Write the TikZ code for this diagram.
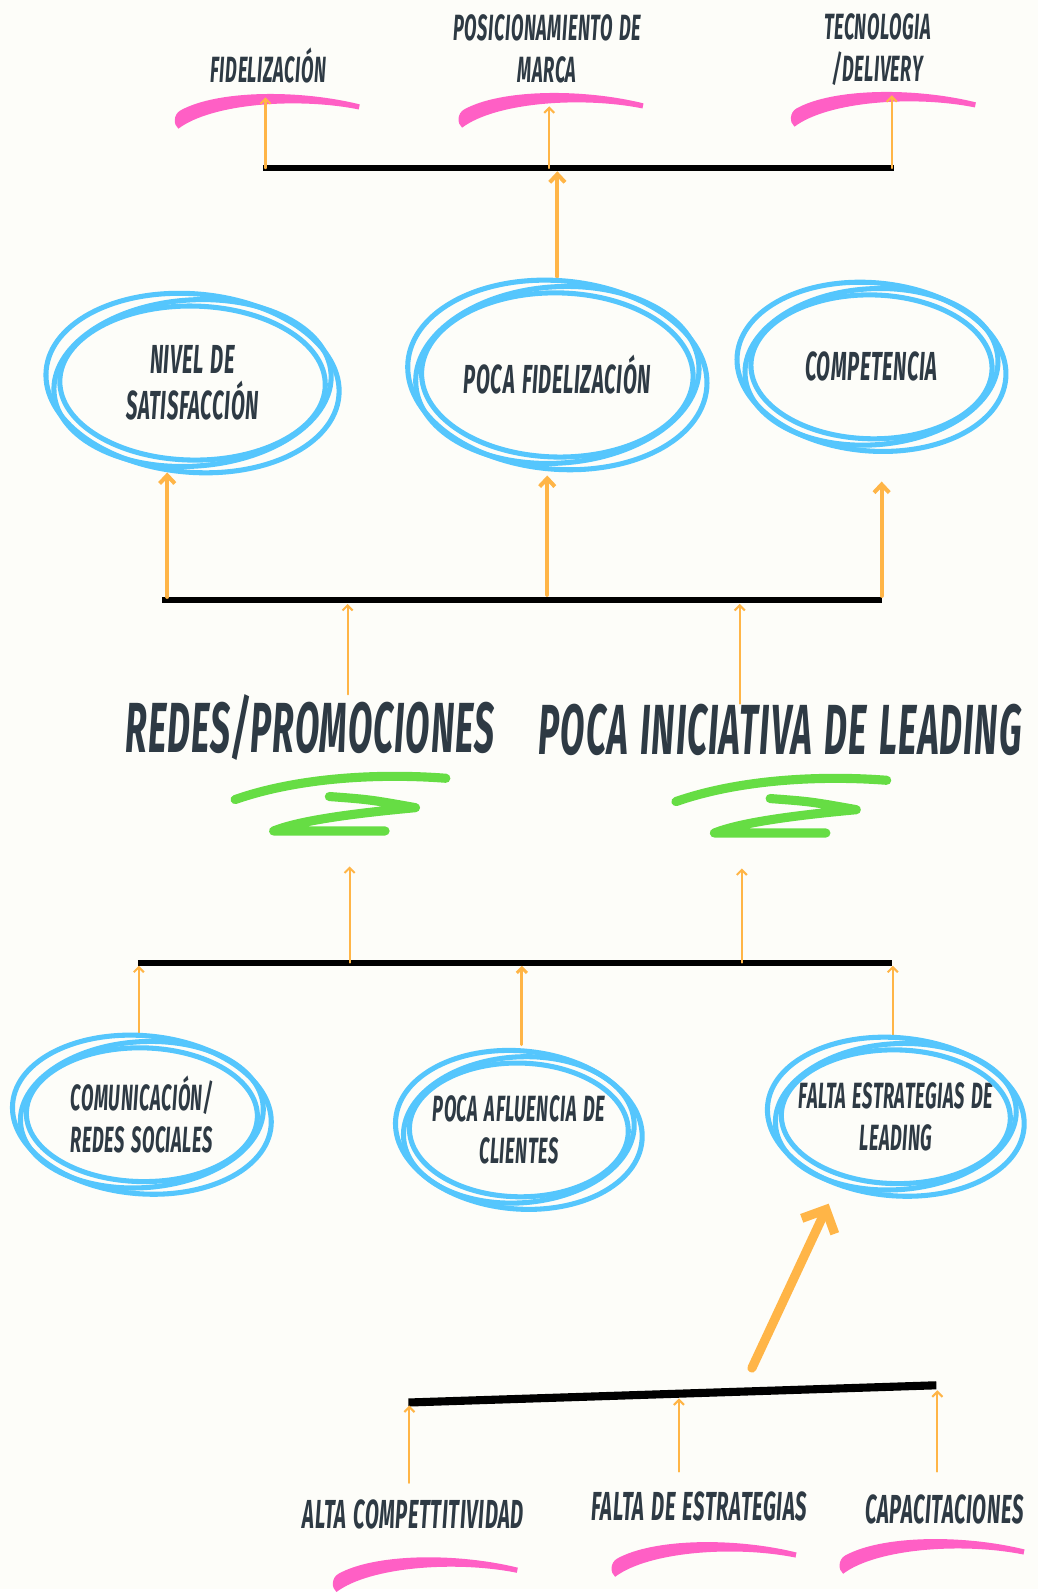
\documentclass[tikz,border=0pt]{standalone}
\usepackage{fontspec}
\newfontfamily\marker[FakeStretch=0.5, LetterSpace=1.5, WordSpace=1.4]{Fira Sans}
\usetikzlibrary{arrows.meta,shapes.geometric}

\definecolor{ink}{HTML}{2E3A44}
\definecolor{sky}{HTML}{55C6FD}
\definecolor{amber}{HTML}{FFB547}
\definecolor{rose}{HTML}{FF5FC5}
\definecolor{lime}{HTML}{66DD44}
\definecolor{paper}{HTML}{FDFDF9}

\tikzset{
  tag/.style={text=ink, align=center, inner sep=0pt,
    font=\marker\bfseries\itshape\fontsize{36}{41}\selectfont},
  headline/.style={tag, font=\marker\bfseries\itshape\fontsize{70}{80}\selectfont},
  bubble/.style 2 args={tag, ellipse, minimum width=#1pt, minimum height=#2pt,
    font=\marker\bfseries\itshape\fontsize{40}{45}\selectfont},
  fine/.style={font=\marker\bfseries\itshape\fontsize{36}{41}\selectfont},
  ground/.style={font=\marker\bfseries\itshape\fontsize{40}{45}\selectfont},
  ring/.style={sky, line width=5pt},
  bar/.style={black, line width=6pt},
  feed/.style={amber, line width=2pt, line cap=round,
    -{Straight Barb[length=5pt,width=10pt]}},
  link/.style={amber, line width=4pt, line cap=round,
    -{Straight Barb[length=8pt,width=15pt]}},
  heavy/.style={amber, line width=9pt, line cap=round,
    -{Straight Barb[length=18pt,width=36pt]}},
  swoosh/.pic={
    \fill[rose] (-88,31) .. controls (-55,6) and (30,0) .. (90,12) -- (91,7)
      .. controls (30,-8) and (-50,-7) .. (-86,13)
      .. controls (-93,17) and (-93,27) .. cycle;
  },
  scribble/.pic={
    \draw[lime, line width=9pt, line cap=round, line join=round]
      (-103,-6) .. controls (-40,-28) and (40,-32) .. (105,-27)
      (-10,-9) .. controls (30,-6) .. (75,2)
      .. controls (10,8) and (-40,15) .. (-65,25) -- (45,25);
  },
}

\begin{document}
\begin{tikzpicture}[x=1pt, y=-1pt]
  \fill[paper] (0,0) rectangle (1024,1568);

  % goals
  \node[tag] (fidel) at (265,65) {FIDELIZACIÓN};
  \node[tag] (posic) at (540,48) {POSICIONAMIENTO DE\\MARCA};
  \node[tag] (tecno) at (866,49) {TECNOLOGIA\\/DELIVERY};

  \coordinate (s1) at (264,96);
  \coordinate (s2) at (544,95);
  \coordinate (s3) at (872,94);
  \pic at (s1) {swoosh};
  \pic at (s2) {swoosh};
  \pic at (s3) {swoosh};

  \coordinate (b1w) at (260,166);
  \coordinate (b1e) at (882,166);
  \draw[bar] (b1w) -- (b1e);

  \coordinate (f1) at (262,166);
  \coordinate (f2) at (542,166);
  \coordinate (f3) at (880,166);
  \draw[feed] (f1) -- (f1 |- s1);
  \draw[feed, shorten >=10pt] (f2) -- (f2 |- s2);
  \draw[feed] (f3) -- (f3 |- s3);

  % effects
  \node[bubble={290}{176}] (nivel)   at (190,378) {NIVEL DE\\SATISFACCIÓN};
  \node[bubble={296}{186}] (pocafid) at (550,370) {POCA FIDELIZACIÓN};
  \node[bubble={266}{166}] (comp)    at (860,362) {COMPETENCIA};

  \draw[link, shorten <=4pt, shorten >=3pt] (pocafid.north) -- (pocafid.north |- b1w);

  \coordinate (b2w) at (160,592);
  \coordinate (b2e) at (870,592);
  \draw[bar] (b2w) -- (b2e);

  \coordinate (g1) at (165,589);
  \coordinate (g2) at (540,587);
  \coordinate (g3) at (870,588);
  \draw[link] (g1) -- (g1 |- nivel.south);
  \draw[link, shorten >=6pt] (g2) -- (g2 |- pocafid.south);
  \draw[link, shorten >=30pt] (g3) -- (g3 |- comp.south);

  % core problems
  \node[headline] (redes)      at (306,718) {REDES/PROMOCIONES};
  \node[headline] (iniciativa) at (770,720) {POCA INICIATIVA DE LEADING};

  \coordinate (h1) at (343,596);
  \coordinate (h2) at (730,596);
  \draw[feed] (redes.north -| h1) -- (h1);
  \draw[feed] (iniciativa.north -| h2) -- (h2);

  \pic at (335,795) {scribble};
  \pic at (770,797) {scribble};

  \coordinate (b3w) at (136,950);
  \coordinate (b3e) at (880,950);
  \draw[bar] (b3w) -- (b3e);

  \coordinate (j1) at (345,950);
  \coordinate (j2) at (732,950);
  \coordinate (up1) at (345,855);
  \coordinate (up2) at (732,857);
  \draw[feed] (j1) -- (up1);
  \draw[feed] (j2) -- (up2);

  % causes
  \node[bubble={256}{156}, fine] (comu)      at (140,1100) {COMUNICACIÓN/\\REDES SOCIALES};
  \node[bubble={244}{156}, fine] (afluencia) at (512,1115) {POCA AFLUENCIA DE\\CLIENTES};
  \node[bubble={254}{156}, fine] (falta)     at (884,1102) {FALTA ESTRATEGIAS DE\\LEADING};

  \coordinate (k1) at (137,953);
  \coordinate (k2) at (515,953);
  \coordinate (k3) at (881,953);
  \draw[feed] (comu.north -| k1) -- (k1);
  \draw[feed, line width=3pt, shorten <=6pt] (afluencia.north -| k2) -- (k2);
  \draw[feed] (falta.north -| k3) -- (k3);

  % hand-drawn loops round every bubble
  \foreach \n/\rx/\ry in {nivel/145/88, pocafid/148/93, comp/133/83,
                          comu/128/78, afluencia/122/78, falta/127/78}
    \foreach \a/\dx/\dy/\sx/\sy in {-5/0/0/0/0, 4/-8/-6/5/-3, -1/-14/-12/3/2}
      \draw[ring, shift={(\sx,\sy)}, rotate around={\a:(\n.center)}]
        (\n.center) ellipse [x radius={\rx+\dx}, y radius={\ry+\dy}];

  % root causes
  \coordinate (b4w) at (403,1384);
  \coordinate (b4e) at (924,1367);
  \draw[bar, line width=8pt] (b4w) -- (b4e);

  \coordinate (push) at (742,1350);
  \draw[heavy, shorten >=17pt] (push) -- (falta.230);

  \node[tag, ground] (alta)     at (408,1494) {ALTA COMPETTITIVIDAD};
  \node[tag, ground] (faltaest) at (690,1487) {FALTA DE ESTRATEGIAS};
  \node[tag, ground] (capac)    at (932,1490) {CAPACITACIONES};

  \coordinate (q1) at (404,1387);
  \coordinate (q2) at (670,1380);
  \coordinate (q3) at (925,1372);
  \draw[feed, shorten <=16pt] (alta.north -| q1) -- (q1);
  \draw[feed, shorten <=20pt] (faltaest.north -| q2) -- (q2);
  \draw[feed, shorten <=23pt] (capac.north -| q3) -- (q3);

  \pic at (420,1540) {swoosh};
  \pic at (695,1525) {swoosh};
  \pic at (920,1522) {swoosh};
\end{tikzpicture}
\end{document}
